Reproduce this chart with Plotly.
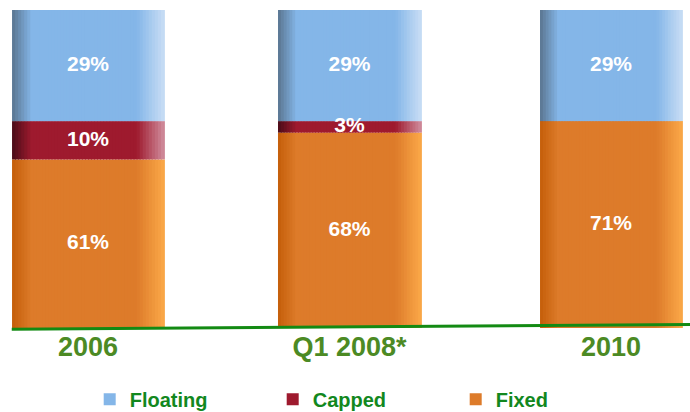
import plotly.graph_objects as go

# ---- data ----
categories = ["2006", "Q1 2008*", "2010"]
fixed = [61, 68, 71]
capped = [10, 3, 0]
floating = [29, 29, 29]
labels_fixed = ["61%", "68%", "71%"]
labels_capped = ["10%", "3%", ""]
labels_floating = ["29%", "29%", "29%"]

# ---- style ----
Y_MIN = 17
BAR_W = [0.581, 0.547, 0.543]
N_STRIPS = 50
series = [
    # name, values, labels, dark, mid, light, legendrank
    ("Fixed", fixed, labels_fixed, (196, 94, 10), (221, 123, 42), (251, 168, 72), 3),
    ("Capped", capped, labels_capped, (74, 12, 24), (158, 26, 46), (208, 140, 156), 2),
    ("Floating", floating, labels_floating, (90, 117, 144), (132, 182, 232), (200, 221, 245), 1),
]


def lerp(a, b, t):
    return tuple(int(round(a[i] + (b[i] - a[i]) * t)) for i in range(3))


def grad_color(dark, mid, light, p):
    if p < 0.13:
        return lerp(dark, mid, p / 0.13)
    if p < 0.82:
        return mid
    return lerp(mid, light, (p - 0.82) / 0.18)


fig = go.Figure()
base = [0, 0, 0]
text_x, text_y, text_t = [], [], []
for name, vals, labs, dark, mid, light, rank in series:
    for k in range(N_STRIPS):
        p = (k + 0.5) / N_STRIPS
        c = grad_color(dark, mid, light, p)
        sw = [w / N_STRIPS for w in BAR_W]
        fig.add_trace(go.Bar(
            x=categories, y=vals, base=base,
            width=[s * 1.3 for s in sw],
            offset=[-w / 2 + k * s for w, s in zip(BAR_W, sw)],
            marker=dict(color="rgb(%d,%d,%d)" % c, line=dict(width=0)),
            name=name, legendgroup=name, legendrank=rank,
            showlegend=(k == N_STRIPS // 2),
            hoverinfo="skip" if k != N_STRIPS // 2 else None,
        ))
    for i, cat in enumerate(categories):
        if labs[i]:
            lo = max(base[i], Y_MIN)
            hi = base[i] + vals[i]
            text_x.append(cat)
            text_y.append((lo + hi) / 2)
            text_t.append(labs[i])
    base = [b + v for b, v in zip(base, vals)]

fig.add_trace(go.Scatter(
    x=text_x, y=text_y, text=text_t, mode="text",
    textfont=dict(family="Liberation Sans, Arial, sans-serif", size=21, color="white", weight="bold"),
    showlegend=False, hoverinfo="skip",
))

fig.add_shape(type="line", xref="paper", yref="paper",
              x0=0.017, y0=-0.004, x1=1.0, y1=0.011,
              line=dict(color="#138a13", width=3))

fig.update_layout(
    width=690, height=412,
    margin=dict(l=0, r=0, t=10, b=84, autoexpand=False),
    barmode="overlay",
    plot_bgcolor="white", paper_bgcolor="white",
    xaxis=dict(
        type="category", range=[-0.3365, 2.302],
        showgrid=False, zeroline=False, showline=False, ticks="",
        tickfont=dict(family="Liberation Sans Narrow, Arial Narrow, Liberation Sans, Arial", size=27,
                      color="#4c8a24", weight="bold"),
    ),
    yaxis=dict(range=[Y_MIN, 100], visible=False, showgrid=False, zeroline=False),
    legend=dict(
        orientation="h", x=0.13, xanchor="left", y=-0.163, yanchor="top",
        entrywidth=138, entrywidthmode="pixels",
        font=dict(family="Liberation Sans, Arial, sans-serif", size=20, color="#12881e", weight="bold"),
        bgcolor="rgba(0,0,0,0)",
    ),
)

fig.write_html("out.html")
